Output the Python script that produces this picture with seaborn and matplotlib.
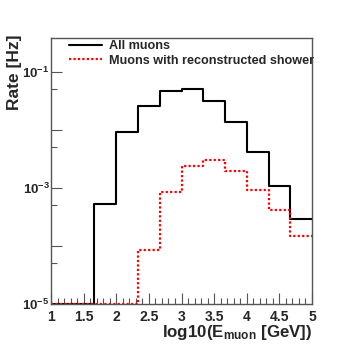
import numpy as np
import pandas as pd
import matplotlib
matplotlib.use("Agg")
import matplotlib.pyplot as plt
from matplotlib.lines import Line2D
from matplotlib.ticker import FixedLocator, MultipleLocator, NullFormatter
import seaborn as sns

# histogram: 12 bins of log10(E_muon) from 1 to 5
n_bins, x_lo, x_hi = 12, 1, 5
all_muons = [0, 0, 5.2e-4, 9.3e-3, 2.6e-2, 4.8e-2, 5.1e-2, 3.2e-2, 1.35e-2, 4.1e-3, 1.1e-3, 2.9e-4]
reco_shower = [0, 0, 0, 0, 8.5e-5, 8.5e-4, 2.4e-3, 3.0e-3, 2.0e-3, 9.1e-4, 4.2e-4, 1.5e-4]
series_labels = ["All muons", "Muons with reconstructed shower"]

y_min, y_max = 1e-5, 0.386

sns.set_theme(style="white")
plt.rcParams["font.family"] = ["Liberation Sans", "DejaVu Sans"]
plt.rcParams["font.weight"] = "bold"
plt.rcParams["mathtext.fontset"] = "custom"
plt.rcParams["mathtext.rm"] = "Liberation Sans:bold"
plt.rcParams["mathtext.bf"] = "Liberation Sans:bold"
plt.rcParams["mathtext.default"] = "bf"

fig = plt.figure(figsize=(3.6, 3.46), dpi=100)
ax = fig.add_axes([51 / 360, 1 - 304 / 346, 261 / 360, 266 / 346])

edges = np.linspace(x_lo, x_hi, n_bins + 1)
# empty bins are drawn on the lower axis edge, as ROOT does
df = pd.DataFrame({
    "center": 0.5 * (edges[:-1] + edges[1:]),
    "all": np.clip(all_muons, y_min, None),
    "reco": np.clip(reco_shower, y_min, None),
})
sns.histplot(data=df, x="center", weights="all", bins=n_bins, binrange=(x_lo, x_hi),
             element="step", fill=False, color="black", linewidth=1.5, ax=ax)
sns.histplot(data=df, x="center", weights="reco", bins=n_bins, binrange=(x_lo, x_hi),
             element="step", fill=False, color="#ff0000", linewidth=1.6,
             linestyle=(0, (1, 1)), ax=ax)

ax.set_yscale("log")
ax.set_ylim(y_min, y_max)
ax.set_xlim(x_lo, x_hi)

# ticks
ax.set_xticks(np.arange(1, 5.01, 0.5))
ax.set_xticklabels(["1", "1.5", "2", "2.5", "3", "3.5", "4", "4.5", "5"])
ax.xaxis.set_minor_locator(MultipleLocator(0.1))
ax.set_yticks([1e-5, 1e-4, 1e-3, 1e-2, 1e-1])
ax.set_yticklabels([r"$10^{-5}$", "", r"$10^{-3}$", "", r"$10^{-1}$"])
ax.yaxis.set_minor_locator(FixedLocator([5e-5, 5e-4, 5e-3, 5e-2]))
ax.yaxis.set_minor_formatter(NullFormatter())
ax.tick_params(axis="both", which="both", direction="in", color="#555555",
               width=0.8, bottom=True, left=True, top=False, right=False)
ax.tick_params(axis="x", which="major", length=8, pad=4, labelsize=10)
ax.tick_params(axis="x", which="minor", length=4)
ax.tick_params(axis="y", which="major", length=8, pad=1, labelsize=9.5)
ax.tick_params(axis="y", which="minor", length=4)
for sp in ax.spines.values():
    sp.set_color("#555555")
    sp.set_linewidth(1)

ax.set_xlabel("")
ax.set_ylabel("")
fig.text(312 / 360, 1 - 337 / 346, r"log10(E$_{\rm muon}$ [GeV])", ha="right",
         va="baseline", fontsize=12.2, fontweight="bold")
fig.text(15 / 360, 1 - 35 / 346, "Rate [Hz]", rotation=90, ha="center", va="top",
         fontsize=12.5, fontweight="bold")

handles = [Line2D([], [], color="black", lw=1.5),
           Line2D([], [], color="#ff0000", lw=1.6, ls=(0, (1, 1)))]
ax.legend(handles, series_labels, loc="upper left", bbox_to_anchor=(69 / 360, 1 - 40 / 346),
          bbox_transform=fig.transFigure, frameon=False,
          handlelength=2.6, handletextpad=0.55, labelspacing=0.2, borderpad=0,
          borderaxespad=0, prop={"weight": "bold", "size": 9.1})

fig.savefig("out.png", dpi=100, facecolor="white")
